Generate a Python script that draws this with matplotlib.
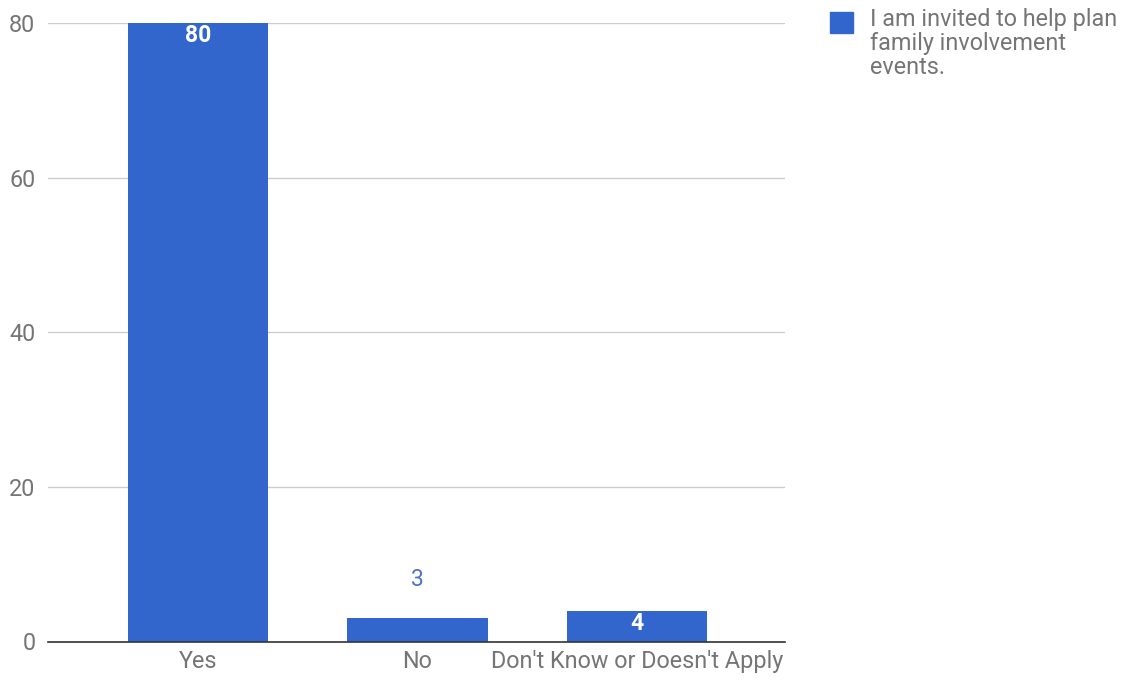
import matplotlib
matplotlib.use("Agg")
import matplotlib.pyplot as plt

categories = ["Yes", "No", "Don't Know or Doesn't Apply"]
values = [80, 3, 4]
series_name = "I am invited to help plan\nfamily involvement\nevents."
yticks = [0, 20, 40, 60, 80]

plt.rcParams['font.family'] = ['Roboto', 'DejaVu Sans']

fig = plt.figure(figsize=(11.31, 6.81), dpi=100)
ax = fig.add_axes([48/1131, 1-641.5/681, (785-48)/1131, (641.5-23)/681])

bar_color = "#3366cc"
x = list(range(len(categories)))
bars = ax.bar(x, values, width=0.64, color=bar_color, zorder=3)

ax.set_xlim(-0.683, 2.674)
ax.set_ylim(0, 80)
ax.set_yticks(yticks)
ax.set_yticklabels([str(v) for v in yticks])
ax.set_xticks(x)
ax.set_xticklabels(categories)
ax.tick_params(axis='both', length=0, labelsize=16.8, colors="#757575")
ax.tick_params(axis='x', pad=6)
ax.tick_params(axis='y', pad=9)
ax.grid(axis='y', color="#cccccc", linewidth=1, zorder=0)
for s in ['top', 'right', 'left']:
    ax.spines[s].set_visible(False)
ax.spines['bottom'].set_color("#333333")
ax.spines['bottom'].set_linewidth(1.2)
ax.spines['bottom'].set_zorder(4)

for xi, v in zip(x, values):
    if v >= 4:
        ax.annotate(str(v), (xi, v), xytext=(0, -9), textcoords='offset points',
                    ha='center', va='center', color='white', fontsize=16.5,
                    fontweight='bold', zorder=5)
    else:
        ax.annotate(str(v), (xi, v), xytext=(0, 28), textcoords='offset points',
                    ha='center', va='center', color="#4f74c4", fontsize=16.5,
                    zorder=5)

# legend
fig.patches.append(plt.Rectangle((830/1131, 1-33/681), 23/1131, 21/681,
                                 transform=fig.transFigure, color=bar_color))
fig.text(870/1131, 1-8/681, series_name, ha='left', va='top',
         fontsize=16.8, color="#757575", linespacing=1.06)

fig.savefig("out.png", dpi=100)
